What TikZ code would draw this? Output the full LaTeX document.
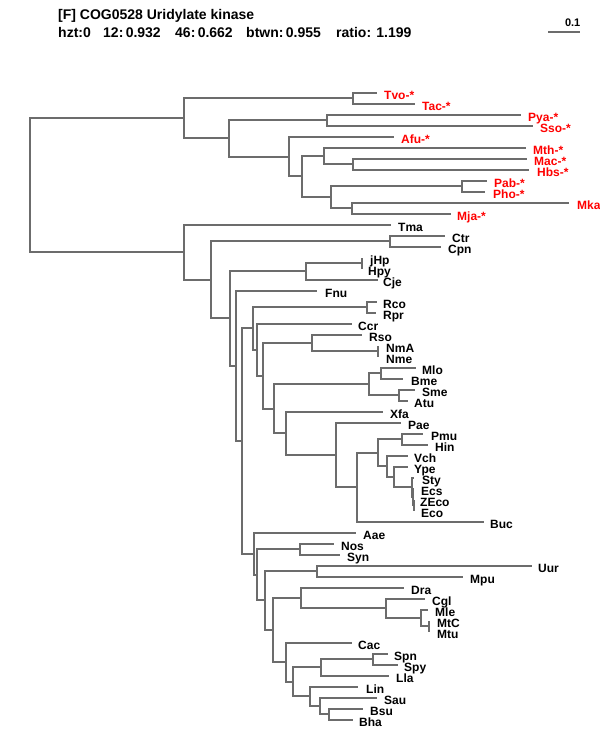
\documentclass[tikz,border=0pt]{standalone}
\usepackage{fontspec}
\setmainfont{Liberation Sans}
\newfontfamily\labfam{Liberation Sans}
\definecolor{treegray}{RGB}{108,108,108}
\definecolor{arred}{RGB}{255,0,0}
\newcommand\lv[6]{\coordinate (#1) at (#2,#3); \node[lab,text=#6] (l#1) at (#4,#3+6.1) {#5};}
\newcommand\ed[2]{\draw[br] (#1) |- (#2);}
\begin{document}
\begin{tikzpicture}[x={(1pt,0)},y={(0,-1pt)},
  br/.style={draw=treegray,line width=2pt},
  lab/.style={anchor=base west,inner sep=0pt,font=\labfam\fontsize{12}{12}\selectfont\bfseries},
  ttl/.style={anchor=base west,inner sep=0pt,font=\fontsize{14}{14}\selectfont\bfseries}]
\useasboundingbox[fill=white] (0,0) rectangle (600,750);
% header
\node[ttl] (title) at (58,19) {[F] COG0528 Uridylate kinase};
\node[ttl] (s1) at (58,37.5) {hzt:0};
\node[ttl] (s2) at (103,37.5) {12:\,0.932};
\node[ttl] (s3) at (175,37.5) {46:\,0.662};
\node[ttl] (s4) at (246,37.5) {btwn:\,0.955};
\node[ttl] (s5) at (336,37.5) {ratio: 1.199};
\coordinate (sbL) at (548,32);
\coordinate (sbR) at (580,32);
\draw[br] (sbL) -- (sbR);
\node[anchor=base east,inner sep=0pt,font=\labfam\fontsize{11}{11}\selectfont\bfseries] (sbl) at (580.5,26) {0.1};
% internal nodes
\coordinate (R) at (30,185);
\coordinate (Arch) at (184,118);
\coordinate (TT) at (353,98);
\coordinate (A2) at (229,138);
\coordinate (PS) at (327,120);
\coordinate (A3) at (289,157);
\coordinate (A4) at (302,176);
\coordinate (A5) at (324,156);
\coordinate (MH) at (353,164);
\coordinate (A6) at (331,197);
\coordinate (PP) at (462,186);
\coordinate (MM) at (352,208);
\coordinate (Bact) at (184,252);
\coordinate (B2) at (211,280);
\coordinate (CC) at (390,241);
\coordinate (B3) at (230,318);
\coordinate (HC) at (306,271);
\coordinate (HH) at (362,263);
\coordinate (B4) at (236,366);
\coordinate (B5) at (242,441);
\coordinate (B6) at (253,328);
\coordinate (RR) at (367,307);
\coordinate (B8) at (257,350);
\coordinate (B9) at (263,376);
\coordinate (RN) at (312,343);
\coordinate (NN) at (378,351);
\coordinate (B10) at (274,409);
\coordinate (AL) at (369,384);
\coordinate (MB) at (381,373);
\coordinate (SA) at (399,395);
\coordinate (B11) at (286,433);
\coordinate (G1) at (336,455);
\coordinate (G2) at (357,487);
\coordinate (G3) at (378,453);
\coordinate (PH) at (402,439);
\coordinate (G4) at (387,466);
\coordinate (G5) at (394,477);
\coordinate (G6) at (412,487);
\coordinate (G7) at (413,497);
\coordinate (G8) at (414,505);
\coordinate (B7) at (254,554);
\coordinate (B12) at (257,575);
\coordinate (NS) at (300,549);
\coordinate (B13) at (265,600);
\coordinate (UM) at (317,571);
\coordinate (B14) at (273,630);
\coordinate (DM) at (301,598);
\coordinate (CM) at (386,608);
\coordinate (MM2) at (421,618);
\coordinate (MT) at (429,626);
\coordinate (B15) at (286,662);
\coordinate (B16) at (293,682);
\coordinate (SL) at (321,667);
\coordinate (SS) at (373,659);
\coordinate (B17) at (310,696);
\coordinate (B18) at (320,706);
\coordinate (BB) at (329,714);
% leaves
\lv{Tvo}{377}{93}{384}{Tvo-*}{arred}
\lv{Tac}{415}{104}{422}{Tac-*}{arred}
\lv{Pya}{521}{115}{528}{Pya-*}{arred}
\lv{Sso}{533}{126}{540}{Sso-*}{arred}
\lv{Afu}{394}{137}{401}{Afu-*}{arred}
\lv{Mth}{526}{148}{533}{Mth-*}{arred}
\lv{Mac}{527}{159}{534}{Mac-*}{arred}
\lv{Hbs}{529}{170}{537}{Hbs-*}{arred}
\lv{Pab}{487}{181}{494}{Pab-*}{arred}
\lv{Pho}{485}{192}{493}{Pho-*}{arred}
\lv{Mka}{569}{203}{577}{Mka}{arred}
\lv{Mja}{451}{214}{457}{Mja-*}{arred}
\lv{Tma}{391}{225}{398}{Tma}{black}
\lv{Ctr}{445}{236}{452}{Ctr}{black}
\lv{Cpn}{441}{247}{448}{Cpn}{black}
\lv{jHp}{362}{258}{370}{jHp}{black}
\lv{Hpy}{362}{269}{368}{Hpy}{black}
\lv{Cje}{378}{280}{383}{Cje}{black}
\lv{Fnu}{317}{291}{325}{Fnu}{black}
\lv{Rco}{377}{302}{383}{Rco}{black}
\lv{Rpr}{376}{313}{383}{Rpr}{black}
\lv{Ccr}{352}{324}{358}{Ccr}{black}
\lv{Rso}{362}{335}{369}{Rso}{black}
\lv{NmA}{378}{346}{386}{NmA}{black}
\lv{Nme}{378}{357}{386}{Nme}{black}
\lv{Mlo}{416}{368}{422}{Mlo}{black}
\lv{Bme}{403}{379}{411}{Bme}{black}
\lv{Sme}{415}{390}{422}{Sme}{black}
\lv{Atu}{408}{401}{414}{Atu}{black}
\lv{Xfa}{383}{412}{390}{Xfa}{black}
\lv{Pae}{401}{423}{408}{Pae}{black}
\lv{Pmu}{423}{434}{431}{Pmu}{black}
\lv{Hin}{428}{445}{435}{Hin}{black}
\lv{Vch}{408}{456}{414}{Vch}{black}
\lv{Ype}{408}{467}{414}{Ype}{black}
\lv{Sty}{414}{478}{422}{Sty}{black}
\lv{Ecs}{414}{489}{421}{Ecs}{black}
\lv{ZEco}{414}{500}{420}{ZEco}{black}
\lv{Eco}{414}{511}{421}{Eco}{black}
\lv{Buc}{484}{522}{490}{Buc}{black}
\lv{Aae}{356}{533}{363}{Aae}{black}
\lv{Nos}{334}{544}{341}{Nos}{black}
\lv{Syn}{340}{555}{347}{Syn}{black}
\lv{Uur}{532}{566}{538}{Uur}{black}
\lv{Mpu}{463}{577}{470}{Mpu}{black}
\lv{Dra}{404}{588}{411}{Dra}{black}
\lv{Cgl}{425}{599}{432}{Cgl}{black}
\lv{Mle}{428}{610}{435}{Mle}{black}
\lv{MtC}{429}{621}{437}{MtC}{black}
\lv{Mtu}{429}{632}{437}{Mtu}{black}
\lv{Cac}{352}{643}{358}{Cac}{black}
\lv{Spn}{388}{654}{394}{Spn}{black}
\lv{Spy}{398}{665}{404}{Spy}{black}
\lv{Lla}{389}{676}{396}{Lla}{black}
\lv{Lin}{358}{687}{366}{Lin}{black}
\lv{Sau}{377}{698}{384}{Sau}{black}
\lv{Bsu}{363}{709}{370}{Bsu}{black}
\lv{Bha}{353}{720}{359}{Bha}{black}
% edges
\ed{R}{Arch}\ed{R}{Bact}
\ed{Arch}{TT}\ed{Arch}{A2}
\ed{TT}{Tvo}\ed{TT}{Tac}
\ed{A2}{PS}\ed{A2}{A3}
\ed{PS}{Pya}\ed{PS}{Sso}
\ed{A3}{Afu}\ed{A3}{A4}
\ed{A4}{A5}\ed{A4}{A6}
\ed{A5}{Mth}\ed{A5}{MH}
\ed{MH}{Mac}\ed{MH}{Hbs}
\ed{A6}{PP}\ed{A6}{MM}
\ed{PP}{Pab}\ed{PP}{Pho}
\ed{MM}{Mka}\ed{MM}{Mja}
\ed{Bact}{Tma}\ed{Bact}{B2}
\ed{B2}{CC}\ed{B2}{B3}
\ed{CC}{Ctr}\ed{CC}{Cpn}
\ed{B3}{HC}\ed{B3}{B4}
\ed{HC}{HH}\ed{HC}{Cje}
\ed{HH}{jHp}\ed{HH}{Hpy}
\ed{B4}{Fnu}\ed{B4}{B5}
\ed{B5}{B6}\ed{B5}{B7}
\ed{B6}{RR}\ed{B6}{B8}
\ed{RR}{Rco}\ed{RR}{Rpr}
\ed{B8}{Ccr}\ed{B8}{B9}
\ed{B9}{RN}\ed{B9}{B10}
\ed{RN}{Rso}\ed{RN}{NN}
\ed{NN}{NmA}\ed{NN}{Nme}
\ed{B10}{AL}\ed{B10}{B11}
\ed{AL}{MB}\ed{AL}{SA}
\ed{MB}{Mlo}\ed{MB}{Bme}
\ed{SA}{Sme}\ed{SA}{Atu}
\ed{B11}{Xfa}\ed{B11}{G1}
\ed{G1}{Pae}\ed{G1}{G2}
\ed{G2}{G3}\ed{G2}{Buc}
\ed{G3}{PH}\ed{G3}{G4}
\ed{PH}{Pmu}\ed{PH}{Hin}
\ed{G4}{Vch}\ed{G4}{G5}
\ed{G5}{Ype}\ed{G5}{G6}
\ed{G6}{Sty}\ed{G6}{G7}
\ed{G7}{Ecs}\ed{G7}{G8}
\ed{G8}{ZEco}\ed{G8}{Eco}
\ed{B7}{Aae}\ed{B7}{B12}
\ed{B12}{NS}\ed{B12}{B13}
\ed{NS}{Nos}\ed{NS}{Syn}
\ed{B13}{UM}\ed{B13}{B14}
\ed{UM}{Uur}\ed{UM}{Mpu}
\ed{B14}{DM}\ed{B14}{B15}
\ed{DM}{Dra}\ed{DM}{CM}
\ed{CM}{Cgl}\ed{CM}{MM2}
\ed{MM2}{Mle}\ed{MM2}{MT}
\ed{MT}{MtC}\ed{MT}{Mtu}
\ed{B15}{Cac}\ed{B15}{B16}
\ed{B16}{SL}\ed{B16}{B17}
\ed{SL}{SS}\ed{SL}{Lla}
\ed{SS}{Spn}\ed{SS}{Spy}
\ed{B17}{Lin}\ed{B17}{B18}
\ed{B18}{Sau}\ed{B18}{BB}
\ed{BB}{Bsu}\ed{BB}{Bha}
\end{tikzpicture}
\end{document}
